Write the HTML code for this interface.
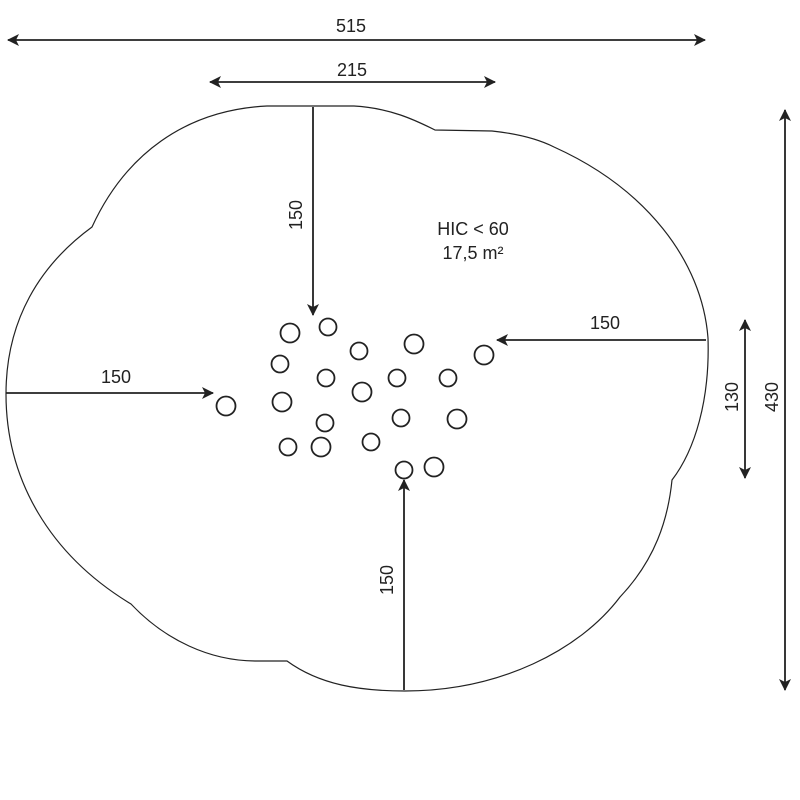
<!DOCTYPE html>
<html><head><meta charset="utf-8"><style>html,body{margin:0;padding:0;background:#fff}svg{display:block}</style></head>
<body>
<svg width="800" height="800" viewBox="0 0 800 800" xmlns="http://www.w3.org/2000/svg" font-family="Liberation Sans, sans-serif" font-size="18" fill="#222">
<defs>
<marker id="a" viewBox="0 0 12 12" refX="11" refY="6" markerWidth="12" markerHeight="12" markerUnits="userSpaceOnUse" orient="auto-start-reverse">
<path d="M0,0 L12,6 L0,12 L3,6 Z" fill="#222"/>
</marker>
</defs>
<path d="M92,227 C125,155 185,110 267,106 L354,106 C390,108 415,120 435,130 L492,131 C520,134 540,140 554,147 C645,188 702,260 708,338 C710,400 695,450 672,480 C668,520 655,560 620,597 C580,650 500,691 405,691 C360,691 320,685 287,661 L256,661 C210,661 165,640 131,604 C50,555 6,480 6,394 C6,320 40,265 92,227 Z" fill="none" stroke="#222" stroke-width="1.2"/>
<g stroke="#222" stroke-width="1.8" fill="none" marker-start="url(#a)" marker-end="url(#a)">
<line x1="8" y1="40" x2="705" y2="40"/>
<line x1="210" y1="82" x2="495" y2="82"/>
<line x1="785" y1="110" x2="785" y2="690"/>
<line x1="745" y1="320" x2="745" y2="478"/>
</g>
<g stroke="#222" stroke-width="1.8" fill="none" marker-end="url(#a)">
<line x1="313" y1="107" x2="313" y2="315"/>
<line x1="706" y1="340" x2="497" y2="340"/>
<line x1="6" y1="393" x2="213" y2="393"/>
<line x1="404" y1="690" x2="404" y2="480"/>
</g>
<g stroke="#222" stroke-width="1.8" fill="none">
<circle cx="290" cy="333" r="9.5"/><circle cx="328" cy="327" r="8.5"/><circle cx="359" cy="351" r="8.5"/><circle cx="414" cy="344" r="9.5"/><circle cx="484" cy="355" r="9.5"/>
<circle cx="280" cy="364" r="8.5"/><circle cx="326" cy="378" r="8.5"/><circle cx="362" cy="392" r="9.5"/><circle cx="397" cy="378" r="8.5"/><circle cx="448" cy="378" r="8.5"/>
<circle cx="226" cy="406" r="9.5"/><circle cx="282" cy="402" r="9.5"/><circle cx="325" cy="423" r="8.5"/><circle cx="401" cy="418" r="8.5"/><circle cx="457" cy="419" r="9.5"/>
<circle cx="288" cy="447" r="8.5"/><circle cx="321" cy="447" r="9.5"/><circle cx="371" cy="442" r="8.5"/><circle cx="404" cy="470" r="8.5"/><circle cx="434" cy="467" r="9.5"/>
</g>
<g text-anchor="middle" stroke="none">
<text x="351" y="32">515</text>
<text x="352" y="76">215</text>
<text x="605" y="329">150</text>
<text x="116" y="383">150</text>
<text x="473" y="235">HIC &lt; 60</text>
<text x="473" y="259">17,5 m²</text>
<text transform="translate(302,215) rotate(-90)">150</text>
<text transform="translate(393,580) rotate(-90)">150</text>
<text transform="translate(738,397) rotate(-90)">130</text>
<text transform="translate(778,397) rotate(-90)">430</text>
</g>
</svg>
</body></html>
